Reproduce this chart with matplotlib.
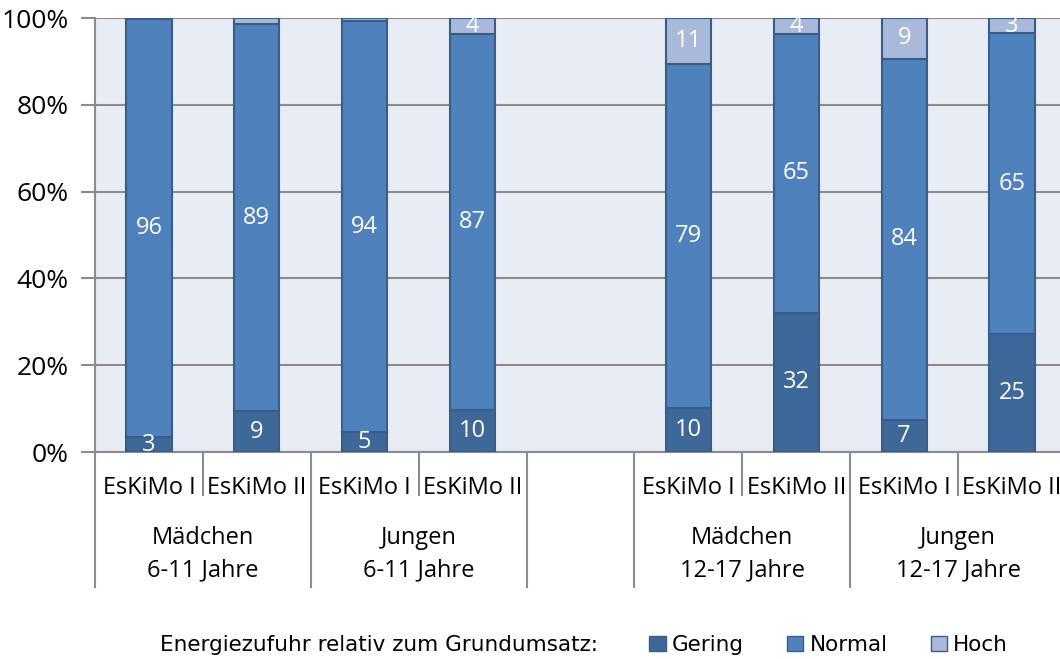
import numpy as np
import matplotlib
matplotlib.use('Agg')
import matplotlib.pyplot as plt
from matplotlib.patches import Patch
from matplotlib.transforms import blended_transform_factory

plt.rcParams['font.family'] = ['Open Sans', 'DejaVu Sans']

# Daten (Rohwerte, werden auf 100% normiert)
studie = ['EsKiMo I', 'EsKiMo II', 'EsKiMo I', 'EsKiMo II',
          'EsKiMo I', 'EsKiMo II', 'EsKiMo I', 'EsKiMo II']
gruppen = ['Mädchen\n6-11 Jahre', 'Jungen\n6-11 Jahre',
           'Mädchen\n12-17 Jahre', 'Jungen\n12-17 Jahre']
gering = [3.4, 9.4, 4.6, 9.8, 10.2, 32.2, 7.4, 25.4]
normal = [96.3, 88.8, 94.2, 86.6, 79.2, 64.6, 83.6, 64.7]
hoch = [0.3, 1.4, 0.8, 3.7, 10.6, 3.6, 9.4, 3.3]
pos = [0, 1, 2, 3, 5, 6, 7, 8]  # Platz 4 bleibt leer

farben = {'Gering': '#3e6898', 'Normal': '#4f81bd', 'Hoch': '#aab9d9'}
rand = '#385d8a'
grau = '#8c8c8c'
fs = 17

werte = np.array([gering, normal, hoch])
anteil = werte / werte.sum(axis=0) * 100

fig = plt.figure(figsize=(10.6, 6.59), dpi=100)
ax = fig.add_axes([95/1060, 1-452/659, 971/1060, 434/659])
ax.set_facecolor('#e8ecf4')

unten = np.zeros(len(pos))
for i, name in enumerate(['Gering', 'Normal', 'Hoch']):
    ax.bar(pos, anteil[i], 0.42, bottom=unten, color=farben[name],
           edgecolor=rand, linewidth=1.5, zorder=3)
    for x, b, h, w in zip(pos, unten, anteil[i], werte[i]):
        if w >= 2.5:
            ax.text(x, b + h/2, f'{w:.0f}', ha='center', va='center',
                    color='white', fontsize=fs, zorder=4)
    unten += anteil[i]

ax.set_xlim(-0.5, 8.5)
ax.set_ylim(0, 100)
ax.set_yticks(range(0, 101, 20))
ax.set_yticklabels([f'{v}%' for v in range(0, 101, 20)], fontsize=19)
ax.yaxis.grid(True, color=grau, linewidth=1.5, zorder=0)
ax.tick_params(axis='y', length=10, width=1.5, color=grau, pad=9)
ax.set_xticks([])
for s in ['top', 'right']:
    ax.spines[s].set_visible(False)
for s in ['left', 'bottom']:
    ax.spines[s].set_color(grau)
    ax.spines[s].set_linewidth(1.5)

# mehrstufige Kategorienachse
tr = blended_transform_factory(ax.transData, ax.transAxes)
for x, s in zip(pos, studie):
    ax.text(x, -0.082, s, transform=tr, ha='center', va='center', fontsize=fs)
for x in [0.5, 2.5, 5.5, 7.5]:
    ax.plot([x, x], [0, -0.099], transform=tr, color=grau, lw=1.5, clip_on=False)
for x in [-0.5, 1.5, 3.5, 4.5, 6.5, 8.5]:
    ax.plot([x, x], [0, -0.311], transform=tr, color=grau, lw=1.5, clip_on=False)
for x, g in zip([0.5, 2.5, 5.5, 7.5], gruppen):
    ax.text(x, -0.236, g, transform=tr, ha='center', va='center',
            fontsize=fs, linespacing=1.45)

# Legende
fig.text(160/1060, 1-645/659, 'Energiezufuhr relativ zum Grundumsatz:',
         ha='left', va='center', fontsize=15.5, family='DejaVu Sans')
griffe = [Patch(facecolor=farben[n], edgecolor=rand, label=n)
          for n in ['Gering', 'Normal', 'Hoch']]
fig.legend(handles=griffe, loc='center left', bbox_to_anchor=(630/1060, 1-645/659),
           ncol=3, frameon=False, handlelength=0.75, handleheight=0.75,
           handletextpad=0.3, columnspacing=2.0,
           prop={'family': 'DejaVu Sans', 'size': 15.5})

fig.savefig('out.png', dpi=100)
